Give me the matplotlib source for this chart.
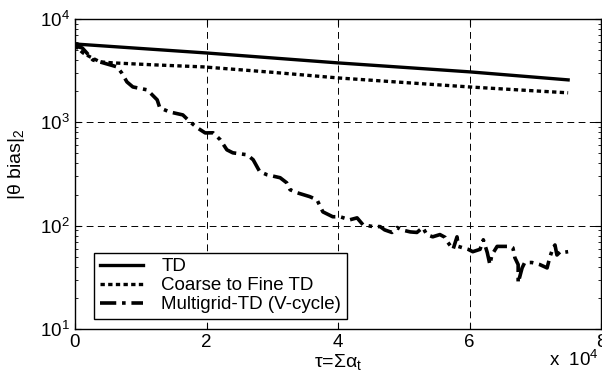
import numpy as np
import matplotlib
matplotlib.use("Agg")
import matplotlib.pyplot as plt

plt.rcParams['font.family'] = ['Liberation Sans', 'DejaVu Sans']
plt.rcParams['mathtext.fontset'] = 'custom'
plt.rcParams['mathtext.rm'] = 'Liberation Sans'
plt.rcParams['mathtext.it'] = 'Liberation Sans'

# tau in units of 1e4
td_x = [0.0, 2.0, 4.0, 6.0, 7.5]
td_y = [5730, 4690, 3760, 3080, 2575]

ctf_x = [0.0, 0.12, 0.23, 0.38, 0.58, 1.2, 1.95, 3.0, 4.0, 5.0, 6.0, 6.8, 7.5]
ctf_y = [5500, 4700, 4300, 3850, 3760, 3600, 3440, 3050, 2690, 2430, 2200, 2050, 1930]

mg_x = [0.0, 0.11, 0.18, 0.27, 0.43, 0.64, 0.71, 0.79, 0.88, 1.10, 1.25, 1.29,
        1.44, 1.64, 1.75, 1.86, 1.98, 2.10, 2.21, 2.31, 2.40, 2.62, 2.71, 2.81,
        2.92, 3.12, 3.22, 3.27, 3.38, 3.57, 3.68, 3.77, 3.92, 4.03, 4.18, 4.29,
        4.38, 4.53, 4.64, 4.71, 4.82, 4.90, 4.97, 5.10, 5.20, 5.29, 5.35, 5.44,
        5.55, 5.63, 5.67, 5.75, 5.81, 5.83, 5.90, 5.98, 6.05, 6.16, 6.21, 6.27,
        6.31, 6.34, 6.42, 6.51, 6.62, 6.66, 6.69, 6.74, 6.74, 6.80, 6.84, 6.95,
        7.07, 7.18, 7.22, 7.27, 7.30, 7.33, 7.38, 7.42, 7.50]
mg_y = [5500, 5250, 4690, 4020, 3760, 3440, 3010, 2460, 2200, 2060, 1650, 1380,
        1260, 1180, 1010, 885, 790, 792, 678, 542, 507, 485, 434, 333,
        311, 291, 260, 223, 208, 191, 178, 136, 122, 122, 114, 119,
        102, 98, 98, 91, 86, 96, 91, 87, 86, 96, 82, 78,
        82, 77, 69, 59, 78, 63, 61, 59, 56, 59, 73, 55,
        42, 52, 63, 63, 63, 61, 49, 42, 28, 39, 44, 44,
        42, 39, 49, 61, 65, 52, 56, 55, 56]

labels = ['TD', 'Coarse to Fine TD', 'Multigrid-TD (V-cycle)']

fig = plt.figure(figsize=(6.02, 3.76), dpi=100)
ax = fig.add_axes([75 / 602, 47 / 376, 526 / 602, 310 / 376])

ax.plot(td_x, td_y, color='black', lw=2.4, ls='-', label=labels[0])
ax.plot(ctf_x, ctf_y, color='black', lw=2.4, ls=(0, (1.3, 1.0)), label=labels[1])
ax.plot(mg_x, mg_y, color='black', lw=2.6, ls=(0, (4.5, 1.6, 1.0, 1.6)), label=labels[2])

ax.set_yscale('log')
ax.set_xlim(0, 8)
ax.set_ylim(10, 1e4)
ax.set_xticks([0, 2, 4, 6, 8])
ax.grid(True, which='major', color='black', ls=(0, (7, 4.5)), lw=0.7)
ax.tick_params(direction='in', which='both', top=True, right=True, labelsize=13.5)
ax.tick_params(which='major', length=4)
ax.tick_params(which='minor', length=2)
for s in ax.spines.values():
    s.set_linewidth(1.0)

ax.set_xlabel('τ=Σα$_t$', fontsize=14, labelpad=1)
ax.set_ylabel('|θ bias|$_2$', fontsize=14)
ax.yaxis.set_label_coords(-0.091, 0.53)
ax.text(0.995, -0.068, 'x  10$^4$', transform=ax.transAxes, ha='right', va='top', fontsize=13.5)

leg = ax.legend(loc='lower left', bbox_to_anchor=(0.036, 0.032), borderaxespad=0,
                fontsize=13.5, fancybox=False, edgecolor='black', framealpha=1,
                handlelength=2.3, handletextpad=1.0, labelspacing=0.1, borderpad=0.3)
leg.get_frame().set_linewidth(1.0)

fig.savefig('out.png', dpi=100)
